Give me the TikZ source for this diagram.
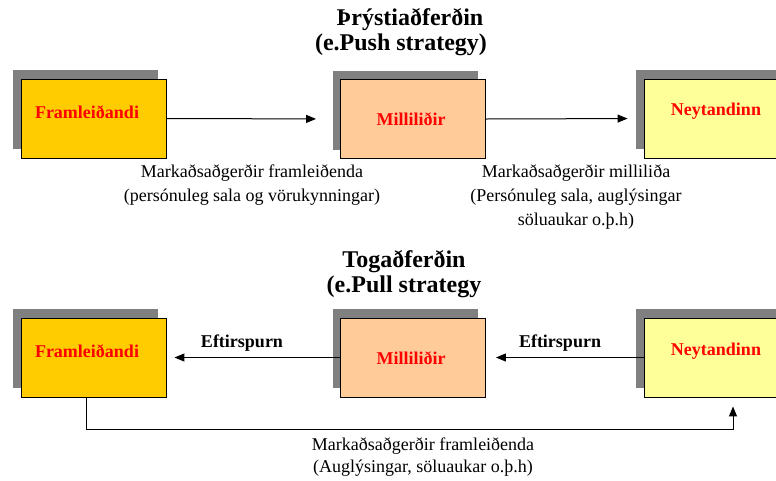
\documentclass[tikz,border=0pt]{standalone}
\usepackage{fontspec}
\setmainfont{Liberation Serif}
\usetikzlibrary{arrows.meta,shadows}
\definecolor{boxgold}{HTML}{FFCC00}
\definecolor{boxpeach}{HTML}{FFCC99}
\definecolor{boxlemon}{HTML}{FFFF99}
\definecolor{shadowgray}{HTML}{808080}
\begin{document}
\begin{tikzpicture}[x=1pt,y=-1pt,
  box/.style={draw=black,line width=0.9pt,minimum width=145pt,minimum height=79pt,inner sep=0pt,
    general shadow={fill=shadowgray,shadow xshift=-8pt,shadow yshift=9pt}},
  lbl/.style={text=red,font=\fontsize{18}{20}\selectfont\bfseries},
  title/.style={font=\fontsize{24}{25}\selectfont\bfseries},
  note/.style={align=center,font=\fontsize{18}{24}\selectfont},
  demand/.style={font=\fontsize{18}{20}\selectfont\bfseries},
  conn/.style={line width=1pt,-{Triangle[length=10pt,width=8pt]}}]
\useasboundingbox (0,0) rectangle (776,480);
\clip (0,0) rectangle (776,480);

% Push strategy
\node[title] (pt1) at (410,20) {Þrýstiaðferðin};
\node[title] (pt2) at (401,45) {(e.Push strategy)};

\node[box,fill=boxgold] (f1) at (93.5,118.5) {};
\node[lbl] (f1t) at (87,112) {Framleiðandi};
\node[box,fill=boxpeach] (m1) at (413,119) {};
\node[lbl] (m1t) at (411,119) {Milliliðir};
\node[box,fill=boxlemon] (n1) at (716.5,118.5) {};
\node[lbl] (n1t) at (716,111) {Neytandinn};

\draw[conn,shorten >=24pt] (f1.east) -- (m1.west);
\draw[conn,shorten >=16pt] (m1.east) -- (n1.west);

\node[note] (pn1) at (252,185) {Markaðsaðgerðir framleiðenda\\(persónuleg sala og vörukynningar)};
\node[note] (pn2) at (576,197) {Markaðsaðgerðir milliliða\\(Persónuleg sala, auglýsingar\\söluaukar o.þ.h)};

% Pull strategy
\node[title] (lt1) at (404,262) {Togaðferðin};
\node[title] (lt2) at (404,287) {(e.Pull strategy};

\node[box,fill=boxgold] (f2) at (93.5,357.5) {};
\node[lbl] (f2t) at (87,351) {Framleiðandi};
\node[box,fill=boxpeach] (m2) at (413,357.5) {};
\node[lbl] (m2t) at (411,358) {Milliliðir};
\node[box,fill=boxlemon] (n2) at (716.5,357.5) {};
\node[lbl] (n2t) at (716,351) {Neytandinn};

\draw[conn,shorten >=8pt] (m2.west) -- (f2.east);
\draw[conn,shorten >=10pt] (n2.west) -- (m2.east);
\node[demand] (d1) at (242,343) {Eftirspurn};
\node[demand] (d2) at (560,343) {Eftirspurn};

\draw[conn,shorten >=9pt] ([xshift=-7.5pt]f2.south) -- ++(0,32) -| ([xshift=16.5pt]n2.south);
\node[note,font=\fontsize{18}{22}\selectfont] (bn) at (423,457) {Markaðsaðgerðir framleiðenda\\(Auglýsingar, söluaukar o.þ.h)};
\end{tikzpicture}
\end{document}
